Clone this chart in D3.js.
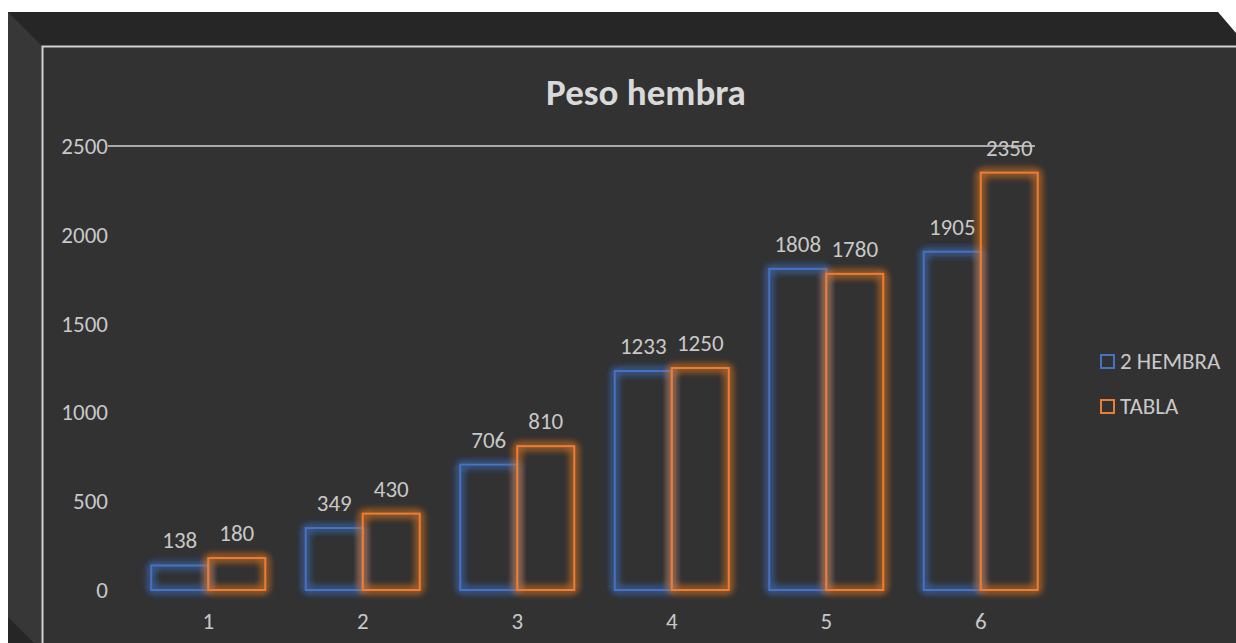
<!DOCTYPE html>
<html>
<head>
<meta charset="utf-8">
<title>Peso hembra</title>
<script src="https://d3js.org/d3.v7.min.js"></script>
<style>
body { margin: 0; background: #ffffff; }
svg { display: block; }
text { font-family: Carlito, Lato, "Liberation Sans", sans-serif; fill: #c8c8c8; }
</style>
</head>
<body>
<div id="container"></div>
<script>
// ---------------- data ----------------
var categories = ["1", "2", "3", "4", "5", "6"];
var seriesNames = ["2 HEMBRA", "TABLA"];
var hembra = [138, 349, 706, 1233, 1808, 1905];
var tabla = [180, 430, 810, 1250, 1780, 2350];
var yTicks = [0, 500, 1000, 1500, 2000, 2500];
var colors = ["#4472C4", "#ED7D31"];

var W = 1236, H = 643;

var svg = d3.select("#container").append("svg")
    .attr("width", W)
    .attr("height", H);

// glow filter
var defs = svg.append("defs");
var f = defs.append("filter").attr("id", "glow")
    .attr("x", "-40%").attr("y", "-40%").attr("width", "180%").attr("height", "180%");
f.append("feGaussianBlur").attr("in", "SourceGraphic").attr("stdDeviation", 4.5).attr("result", "b");
var m = f.append("feMerge");
m.append("feMergeNode").attr("in", "b");
m.append("feMergeNode").attr("in", "b");
m.append("feMergeNode").attr("in", "b");
m.append("feMergeNode").attr("in", "SourceGraphic");

// ---------------- bevelled frame ----------------
svg.append("polygon")
    .attr("points", "8,12 1218,12 1236,33 1236,643 8,643")
    .attr("fill", "#262626");
svg.append("polygon")
    .attr("points", "8,12 42,46 42,643 34,643 8,617")
    .attr("fill", "#373737");
svg.append("rect")
    .attr("x", 42).attr("y", 46).attr("width", W - 42).attr("height", H - 46)
    .attr("fill", "#323232");
svg.append("path")
    .attr("d", "M42.5,643 L42.5,46.5 L1236,46.5")
    .attr("fill", "none")
    .attr("stroke", "#d0d0d0")
    .attr("stroke-width", 2);

// ---------------- scales ----------------
var x = d3.scaleBand().domain(categories).range([131, 1058]).paddingInner(0).paddingOuter(0);
var y = d3.scaleLinear().domain([0, 2500]).range([590, 146]);
var barW = 57;
var fs = "23px";

// title
svg.append("text")
    .attr("x", 646).attr("y", 105)
    .attr("text-anchor", "middle")
    .style("font-size", "37px")
    .style("font-weight", "bold")
    .style("fill", "#d9d9d9")
    .text("Peso hembra");

// top gridline
svg.append("line")
    .attr("x1", 108).attr("x2", 1035)
    .attr("y1", y(2500)).attr("y2", y(2500))
    .attr("stroke", "#d0d0d0").attr("stroke-width", 1.5);

// y axis labels
svg.selectAll(".ytick")
    .data(yTicks)
    .enter().append("text")
    .attr("class", "ytick")
    .attr("x", 108)
    .attr("y", function(d) { return y(d) + 8; })
    .attr("text-anchor", "end")
    .style("font-size", fs)
    .text(function(d) { return d; });

// x axis labels
svg.selectAll(".xtick")
    .data(categories)
    .enter().append("text")
    .attr("class", "xtick")
    .attr("x", function(d) { return x(d) + x.bandwidth() / 2; })
    .attr("y", 629)
    .attr("text-anchor", "middle")
    .style("font-size", fs)
    .text(function(d) { return d; });

// bars
var series = [hembra, tabla];
series.forEach(function(vals, si) {
    var g = svg.append("g");
    var cx = function(i) { return x(categories[i]) + x.bandwidth() / 2 - barW + si * barW; };
    g.selectAll("rect")
        .data(vals)
        .enter().append("rect")
        .attr("x", function(d, i) { return cx(i); })
        .attr("y", function(d) { return y(d); })
        .attr("width", barW)
        .attr("height", function(d) { return y(0) - y(d); })
        .attr("fill", "none")
        .attr("stroke", colors[si])
        .attr("stroke-width", 2)
        .attr("filter", "url(#glow)");
    g.selectAll("text")
        .data(vals)
        .enter().append("text")
        .attr("x", function(d, i) { return cx(i) + barW / 2; })
        .attr("y", function(d) { return y(d) - 17; })
        .attr("text-anchor", "middle")
        .style("font-size", fs)
        .text(function(d) { return d; });
});

// legend
var leg = svg.selectAll(".leg")
    .data(seriesNames)
    .enter().append("g")
    .attr("class", "leg")
    .attr("transform", function(d, i) { return "translate(1101," + (355 + i * 45) + ")"; });
leg.append("rect")
    .attr("width", 13).attr("height", 13)
    .attr("fill", "none")
    .attr("stroke", function(d, i) { return colors[i]; })
    .attr("stroke-width", 2);
leg.append("text")
    .attr("x", 19).attr("y", 14)
    .style("font-size", fs)
    .text(function(d) { return d; });
</script>
</body>
</html>
